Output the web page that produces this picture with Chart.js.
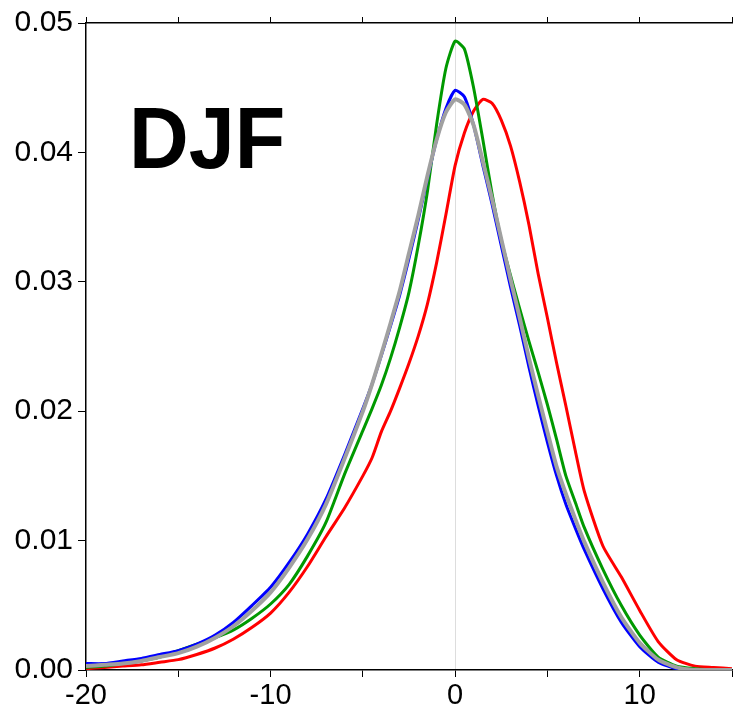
<!DOCTYPE html>
<html>
<head>
<meta charset="utf-8">
<script src="https://cdn.jsdelivr.net/npm/chart.js@4/dist/chart.umd.min.js"></script>
<style>
  body { margin: 0; background: #fff; }
  #wrap { position: relative; width: 734px; height: 708px; }
</style>
</head>
<body>
<div id="wrap"><canvas id="pdf" width="734" height="708"></canvas></div>
<script>
// eje x compartido (paso 1 en las colas, 0.5 cerca del pico)
const xs = [-20,-19,-18,-17,-16,-15,-14,-13,-12,-11,-10,-9,-8,-7,-6,-5,
  -4.5,-4,-3.5,-3,-2.5,-2,-1.5,-1,-0.5,0,0.5,1,1.5,2,2.5,3,3.5,4,4.5,5,5.5,6,6.5,7,
  8,9,10,11,12,13,14,15];

const serieAzul = [0.0005,0.0005,0.0007,0.0009,0.0012,0.0015,0.0020,0.0027,0.0037,0.0050,0.0064,0.0083,0.0105,0.0132,0.0166,0.0202,
  0.0221,0.0243,0.0266,0.0290,0.0318,0.0348,0.0380,0.0410,0.0434,0.0448,0.0443,0.0421,0.0390,0.0360,0.0328,0.0296,0.0266,0.0234,0.0204,0.0176,0.0150,0.0128,0.0110,0.0093,
  0.0063,0.0037,0.0018,0.0006,0.0001,0,0,0];

const serieGris = [0.0003,0.0004,0.0005,0.0007,0.0010,0.0013,0.0018,0.0025,0.0034,0.0046,0.0060,0.0079,0.0101,0.0128,0.0163,0.0200,
  0.0221,0.0244,0.0268,0.0293,0.0322,0.0351,0.0382,0.0410,0.0431,0.0441,0.0437,0.0421,0.0393,0.0364,0.0333,0.0302,0.0272,0.0241,0.0212,0.0184,0.0157,0.0136,0.0117,0.0099,
  0.0068,0.0041,0.0021,0.0008,0.0002,0,0,0];

const serieVerde = [0.0002,0.0003,0.0005,0.0007,0.0010,0.0015,0.0020,0.0025,0.0031,0.0040,0.0051,0.0066,0.0088,0.0114,0.0151,0.0185,
  0.0202,0.0220,0.0241,0.0265,0.0292,0.0328,0.0370,0.0422,0.0465,0.0486,0.0480,0.0450,0.0410,0.0368,0.0332,0.0305,0.0279,0.0254,0.0230,0.0205,0.0178,0.0150,0.0130,0.0110,
  0.0078,0.0050,0.0027,0.0010,0.0003,0.0001,0,0];

const serieRoja = [0.0001,0.0002,0.0003,0.0004,0.0006,0.0008,0.0012,0.0017,0.0024,0.0033,0.0044,0.0060,0.0080,0.0103,0.0125,0.0150,
  0.0164,0.0184,0.0200,0.0218,0.0237,0.0258,0.0283,0.0315,0.0352,0.0390,0.0415,0.0432,0.0441,0.0438,0.0425,0.0405,0.0377,0.0344,0.0306,0.0272,0.0237,0.0204,0.0170,0.0138,
  0.0096,0.0072,0.0046,0.0022,0.0008,0.0003,0.0002,0.0001];

const yTicks = [0, 0.01, 0.02, 0.03, 0.04, 0.05];
const xTicksConTexto = [-20, -10, 0, 10];
const etiqueta = 'DJF';

const FUENTE = '"Liberation Sans", Arial, Helvetica, sans-serif';

function puntos(vals) {
  return xs.map((x, i) => ({ x: x, y: vals[i] }));
}

function linea(label, vals, color, ancho) {
  return {
    label: label,
    data: puntos(vals),
    borderColor: color,
    borderWidth: ancho,
    borderJoinStyle: 'round',
    pointRadius: 0,
    fill: false,
    tension: 0.2
  };
}

// texto grande de la estacion
const textoEstacion = {
  id: 'textoEstacion',
  afterDraw(chart) {
    const ctx = chart.ctx;
    ctx.save();
    ctx.fillStyle = '#000';
    ctx.font = 'bold 87px ' + FUENTE;
    ctx.textBaseline = 'alphabetic';
    ctx.translate(129, 168);
    ctx.scale(0.95, 1);
    ctx.fillText(etiqueta, 0, 0);
    ctx.restore();
  }
};

const ctx = document.getElementById('pdf').getContext('2d');
new Chart(ctx, {
  type: 'line',
  data: {
    datasets: [
      linea('gris', serieGris, '#a0a0a0', 4),
      linea('azul', serieAzul, '#0000ff', 3),
      linea('verde', serieVerde, '#009900', 3),
      linea('roja', serieRoja, '#ff0000', 3)
    ]
  },
  options: {
    responsive: false,
    animation: false,
    layout: { padding: { top: 0, right: 0, left: 0, bottom: 0 } },
    plugins: { legend: { display: false }, tooltip: { enabled: false } },
    scales: {
      x: {
        type: 'linear',
        position: 'bottom',
        min: -20, max: 15,
        afterFit: s => { s.height = 38; },
        ticks: {
          stepSize: 5,
          autoSkip: false,
          maxRotation: 0,
          padding: 2,
          color: '#000',
          font: { family: FUENTE, size: 29 },
          callback: v => xTicksConTexto.includes(v) ? String(v) : ''
        },
        grid: {
          color: c => (c.tick && c.tick.value === 0) ? '#dddddd' : 'rgba(0,0,0,0)',
          tickColor: '#000',
          tickLength: 7,
          lineWidth: 1
        },
        border: { color: '#000', width: 1.5 }
      },
      x2: {
        type: 'linear',
        position: 'top',
        min: -20, max: 15,
        afterFit: s => { s.height = 16; },
        ticks: { stepSize: 5, display: false },
        grid: { drawOnChartArea: false, tickColor: '#000', tickLength: 6 },
        border: { color: '#000', width: 1.5 }
      },
      y: {
        min: 0, max: 0.05,
        afterFit: s => { s.width = 86; },
        afterBuildTicks: s => { s.ticks = yTicks.map(v => ({ value: v })); },
        ticks: {
          padding: 5,
          color: '#000',
          font: { family: FUENTE, size: 30 },
          callback: v => Number(v).toFixed(2)
        },
        grid: { drawOnChartArea: false, tickColor: '#000', tickLength: 8 },
        border: { color: '#000', width: 1.5 }
      }
    }
  },
  plugins: [textoEstacion]
});
</script>
</body>
</html>
